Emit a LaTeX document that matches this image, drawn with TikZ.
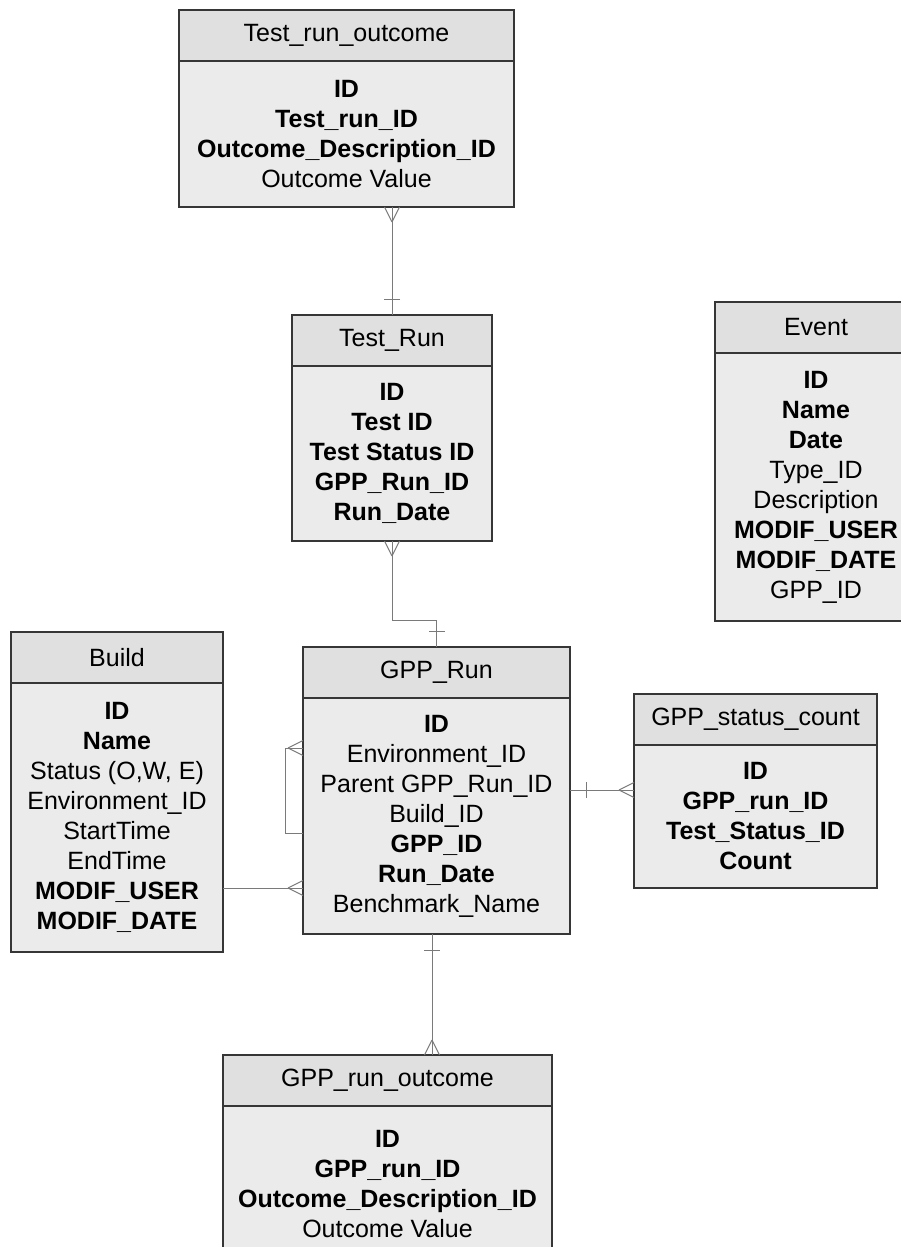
\documentclass[tikz,border=0pt]{standalone}
\usepackage{fontspec}
\setmainfont{Liberation Sans}
\usepackage{tikz}
\usetikzlibrary{positioning, decorations.markings}
\definecolor{headfill}{HTML}{E0E0E0}
\definecolor{bodyfill}{HTML}{EBEBEB}
\definecolor{edgegray}{HTML}{363636}
\definecolor{relgray}{HTML}{7A7A7A}
\tikzset{
    enthead/.style={draw=edgegray, line width=1.5pt, fill=headfill, minimum height=51pt, inner sep=0pt, outer sep=0pt, anchor=north west, font=\fontsize{25}{30}\selectfont},
    entbody/.style={draw=edgegray, line width=1.5pt, fill=bodyfill, inner sep=0pt, outer sep=0pt, align=center, font=\fontsize{25}{30}\selectfont},
    rel/.style={draw=relgray, line width=1pt},
    relmany/.style={postaction={decorate, decoration={markings, mark=at position 1 with {\draw[rel] (-15pt,0pt) -- (0pt,7.5pt) (-15pt,0pt) -- (0pt,-7.5pt);}}}},
    relone/.style={postaction={decorate, decoration={markings, mark=at position 16pt with {\draw[rel] (0pt,-8pt) -- (0pt,8pt);}}}},
}

\begin{document}
\begin{tikzpicture}[x=1pt, y=-1pt]
    \path[use as bounding box, fill=white] (0,0) rectangle (901,1247);
    % Tablas
    \node[enthead, minimum width=335pt] (trohead) at (179,10) {Test\_run\_outcome};
    \node[entbody, minimum width=335pt, minimum height=146pt, below=0pt of trohead] (trobody)
        {\textbf{ID}\\ \textbf{Test\_run\_ID}\\ \textbf{Outcome\_Description\_ID}\\ Outcome Value};
    \node[enthead, minimum width=200pt] (trunhead) at (292,315) {Test\_Run};
    \node[entbody, minimum width=200pt, minimum height=175pt, below=0pt of trunhead] (trunbody)
        {\textbf{ID}\\ \textbf{Test ID}\\ \textbf{Test Status ID}\\ \textbf{GPP\_Run\_ID}\\ \textbf{Run\_Date}};
    \node[enthead, minimum width=202pt] (evhead) at (715,302) {Event};
    \node[entbody, minimum width=202pt, minimum height=268pt, below=0pt of evhead] (evbody)
        {\textbf{ID}\\ \textbf{Name}\\ \textbf{Date}\\ Type\_ID\\ Description\\ \textbf{MODIF\_USER}\\ \textbf{MODIF\_DATE}\\ GPP\_ID};
    \node[enthead, minimum width=212pt] (buildhead) at (11,632) {Build};
    \node[entbody, minimum width=212pt, minimum height=269pt, below=0pt of buildhead] (buildbody)
        {\textbf{ID}\\ \textbf{Name}\\ Status (O,W, E)\\ Environment\_ID\\ StartTime\\ EndTime\\ \textbf{MODIF\_USER}\\ \textbf{MODIF\_DATE}};
    \node[enthead, minimum width=267pt] (gpphead) at (303,647) {GPP\_Run};
    \node[entbody, minimum width=267pt, minimum height=236pt, below=0pt of gpphead] (gppbody)
        {\textbf{ID}\\ Environment\_ID\\ Parent GPP\_Run\_ID\\ Build\_ID\\ \textbf{GPP\_ID}\\ \textbf{Run\_Date}\\ Benchmark\_Name};
    \node[enthead, minimum width=243pt] (gschead) at (634,694) {GPP\_status\_count};
    \node[entbody, minimum width=243pt, minimum height=143pt, below=0pt of gschead] (gscbody)
        {\textbf{ID}\\ \textbf{GPP\_run\_ID}\\ \textbf{Test\_Status\_ID}\\ \textbf{Count}};
    \node[enthead, minimum width=329pt] (grohead) at (223,1055) {GPP\_run\_outcome};
    \node[entbody, minimum width=329pt, minimum height=156pt, below=0pt of grohead] (grobody)
        {\textbf{ID}\\ \textbf{GPP\_run\_ID}\\ \textbf{Outcome\_Description\_ID}\\ Outcome Value};
    % Relaciones
    \draw[rel, relone, relmany] (trunhead.north) -- (trunhead.north |- trobody.south);
    \draw[rel, relone, relmany] (gpphead.north) -- ++(0,-27) -| (trunbody.south);
    \draw[rel, relmany] (gppbody.west |- 0,833) -- ++(-18,0) |- (gppbody.west |- 0,748);
    \draw[rel, relmany] (buildbody.east |- 0,888) -- (gppbody.west |- 0,888);
    \draw[rel, relone, relmany] (gppbody.east |- 0,790) -- (gscbody.west |- 0,790);
    \draw[rel, relone, relmany] (432,0 |- gppbody.south) -- (432,0 |- grohead.north);
\end{tikzpicture}
\end{document}
